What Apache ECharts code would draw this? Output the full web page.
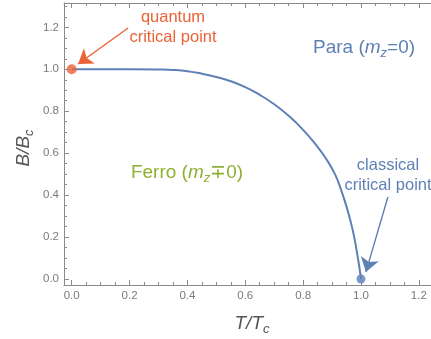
<!DOCTYPE html>
<html>
<head>
<meta charset="utf-8">
<script src="https://cdn.jsdelivr.net/npm/echarts@6/dist/echarts.min.js"></script>
<style>
  html, body { margin: 0; padding: 0; background: #fff; }
  #main { width: 431px; height: 339px; }
</style>
</head>
<body>
<div id="main"></div>
<script>
    // phase boundary
    var tVals = [0, 0.1, 0.2, 0.3, 0.35, 0.4, 0.45, 0.5, 0.55, 0.6, 0.65, 0.7, 0.75, 0.8, 0.85, 0.88, 0.91, 0.93, 0.95, 0.965, 0.978, 0.988, 0.995, 1.0];
    var bVals = [1.0, 1.0, 1.0, 0.999, 0.997, 0.991, 0.979, 0.963, 0.943, 0.915, 0.878, 0.833, 0.778, 0.711, 0.630, 0.572, 0.500, 0.430, 0.345, 0.270, 0.190, 0.110, 0.050, 0];

    var quantumPoint = [0, 1];
    var classicalPoint = [1, 0];
    var quantumArrow = [[0.195, 1.197], [0.022, 1.025]];
    var classicalArrow = [[1.093, 0.391], [1.017, 0.033]];

    var majorX = [0, 0.2, 0.4, 0.6, 0.8, 1.0, 1.2];
    var minorX = [0.05, 0.1, 0.15, 0.25, 0.3, 0.35, 0.45, 0.5, 0.55, 0.65, 0.7, 0.75, 0.85, 0.9, 0.95, 1.05, 1.1, 1.15];
    var majorY = [0, 0.2, 0.4, 0.6, 0.8, 1.0, 1.2];
    var minorY = [0.05, 0.1, 0.15, 0.25, 0.3, 0.35, 0.45, 0.5, 0.55, 0.65, 0.7, 0.75, 0.85, 0.9, 0.95, 1.05, 1.1, 1.15, 1.25, 1.3];

    var xMin = -0.0266, xMax = 1.242;
    var yMin = -0.0286, yMax = 1.316;

    var blue = '#5E81B5';
    var orange = '#EB6235';
    var green = '#8FB131';
    var frame = '#8a8a8a';
    var font = 'Liberation Sans, Arial, sans-serif';

    var curve = tVals.map(function (t, i) { return [t, bVals[i]]; });

    function xAx(pos, ticks, len, withLine, withLabel) {
        return {
            type: 'value', min: xMin, max: xMax, position: pos,
            axisLine: { show: withLine, onZero: false, lineStyle: { color: frame, width: 1 } },
            axisTick: { inside: true, length: len, customValues: ticks, lineStyle: { color: frame } },
            axisLabel: {
                show: withLabel, customValues: ticks, color: '#7a7a7a', fontSize: 11.5, fontFamily: font, margin: 5,
                formatter: function (v) { return v.toFixed(1); }
            },
            splitLine: { show: false }
        };
    }
    function yAx(ticks, len, withLine, withLabel) {
        return {
            type: 'value', min: yMin, max: yMax, position: 'left',
            axisLine: { show: withLine, onZero: false, lineStyle: { color: frame, width: 1 } },
            axisTick: { inside: true, length: len, customValues: ticks, lineStyle: { color: frame } },
            axisLabel: {
                show: withLabel, customValues: ticks, color: '#7a7a7a', fontSize: 11.5, fontFamily: font, margin: 5,
                formatter: function (v) { return v.toFixed(1); }
            },
            splitLine: { show: false }
        };
    }

    var subRich = function (size, color) {
        return {
            n: { fontSize: size, fontFamily: font, fill: color, lineHeight: 24 },
            i: { fontSize: size, fontFamily: font, fontStyle: 'italic', fill: color, lineHeight: 24 },
            s: { fontSize: Math.round(size * 0.7), fontFamily: font, fontStyle: 'italic', fill: color, lineHeight: 14, verticalAlign: 'bottom' }
        };
    };

    var myChart = echarts.init(document.getElementById('main'));
    option = {
        animation: false,
        grid: { left: 64, right: 0, top: 3, bottom: 54, outerBoundsMode: 'none' },
        xAxis: [
            xAx('bottom', majorX, 5, true, true),
            xAx('bottom', minorX, 3, false, false),
            xAx('top', majorX, 5, true, false),
            xAx('top', minorX, 3, false, false)
        ],
        yAxis: [
            yAx(majorY, 5, true, true),
            yAx(minorY, 3, false, false)
        ],
        series: [
            {
                type: 'line', data: curve, smooth: 0.5,
                showSymbol: false, lineStyle: { color: blue, width: 2 }, z: 2
            },
            {
                type: 'scatter', data: [quantumPoint], symbolSize: 10,
                itemStyle: { color: orange }, z: 4
            },
            {
                type: 'scatter', data: [classicalPoint], symbolSize: 9,
                itemStyle: { color: blue }, z: 4
            },
            {
                type: 'lines', coordinateSystem: 'cartesian2d',
                symbol: ['none', 'arrow'], symbolSize: 14,
                data: [
                    { coords: quantumArrow, lineStyle: { color: orange, width: 1.4, opacity: 1 } },
                    { coords: classicalArrow, lineStyle: { color: blue, width: 1.4, opacity: 1 } }
                ],
                z: 3
            }
        ],
        graphic: [
            {
                type: 'text', x: 173, y: 27,
                style: { text: 'quantum\ncritical point', fill: orange, fontSize: 16.5, fontFamily: font, lineHeight: 20, align: 'center', verticalAlign: 'middle' }
            },
            {
                type: 'text', x: 388, y: 175,
                style: { text: 'classical\ncritical point', fill: blue, fontSize: 16.5, fontFamily: font, lineHeight: 20, align: 'center', verticalAlign: 'middle' }
            },
            {
                type: 'text', x: 364, y: 48,
                style: { text: '{n|Para (}{i|m}{s|z}{n|=0)}', rich: subRich(19, blue), fill: blue, align: 'center', verticalAlign: 'middle' }
            },
            {
                type: 'text', x: 187, y: 173,
                style: { text: '{n|Ferro (}{i|m}{s|z}{n|\u22130)}', rich: subRich(19, green), fill: green, align: 'center', verticalAlign: 'middle' }
            },
            {
                type: 'text', x: 24, y: 148, rotation: Math.PI / 2,
                style: { text: '{i|B/B}{s|c}', rich: subRich(19, '#555'), fill: '#555', align: 'center', verticalAlign: 'middle' }
            },
            {
                type: 'text', x: 252, y: 324,
                style: { text: '{i|T/T}{s|c}', rich: subRich(19, '#555'), fill: '#555', align: 'center', verticalAlign: 'middle' }
            }
        ]
    };
    myChart.setOption(option, true);
</script>
</body>
</html>
